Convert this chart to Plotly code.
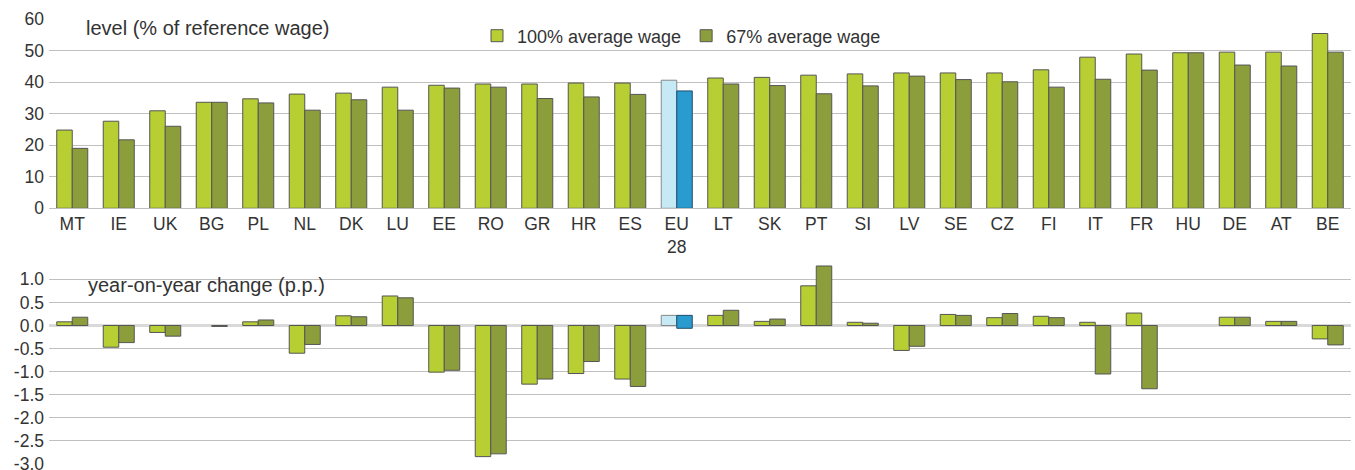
import plotly.graph_objects as go

categories = ["MT", "IE", "UK", "BG", "PL", "NL", "DK", "LU", "EE", "RO", "GR", "HR", "ES", "EU28",
              "LT", "SK", "PT", "SI", "LV", "SE", "CZ", "FI", "IT", "FR", "HU", "DE", "AT", "BE"]
tick_labels = ["MT", "IE", "UK", "BG", "PL", "NL", "DK", "LU", "EE", "RO", "GR", "HR", "ES", "EU<br>28",
               "LT", "SK", "PT", "SI", "LV", "SE", "CZ", "FI", "IT", "FR", "HU", "DE", "AT", "BE"]

level_100 = [24.8, 27.6, 30.9, 33.6, 34.7, 36.2, 36.5, 38.4, 39.0, 39.4, 39.4, 39.7, 39.7, 40.6,
             41.3, 41.5, 42.2, 42.6, 42.9, 42.9, 42.9, 43.9, 47.9, 48.9, 49.3, 49.5, 49.5, 55.4]
level_67 = [19.0, 21.7, 26.0, 33.6, 33.4, 31.1, 34.4, 31.1, 38.1, 38.4, 34.8, 35.3, 36.1, 37.2,
            39.4, 38.9, 36.3, 38.8, 41.9, 40.8, 40.1, 38.4, 40.9, 43.8, 49.3, 45.4, 45.1, 49.5]

change_100 = [0.08, -0.47, -0.15, 0.0, 0.08, -0.60, 0.21, 0.64, -1.01, -2.84, -1.27, -1.04, -1.16, 0.22,
              0.22, 0.09, 0.86, 0.07, -0.54, 0.24, 0.17, 0.20, 0.07, 0.27, 0.0, 0.18, 0.09, -0.29]
change_67 = [0.18, -0.37, -0.23, -0.02, 0.12, -0.41, 0.19, 0.60, -0.97, -2.78, -1.16, -0.78, -1.32, 0.22,
             0.33, 0.14, 1.29, 0.05, -0.45, 0.22, 0.26, 0.17, -1.05, -1.37, 0.0, 0.18, 0.09, -0.42]
# the EU28 67% bar in the change panel visibly dips below zero
eu_change_67_low = -0.06

LIGHT = "#b8cf33"
DARK = "#8c9e3c"
EU_LIGHT = "#c6e9f6"
EU_DARK = "#2a9bcf"
OUTLINE = "#555555"

def colors(base, eu):
    return [eu if c == "EU28" else base for c in categories]

def outlines(eu):
    return [eu if c == "EU28" else OUTLINE for c in categories]

def widths(vals):
    return [0 if v == 0 else 1 for v in vals]

base67 = [eu_change_67_low if c == "EU28" else 0 for c in categories]
height67 = [v - b if c == "EU28" else v for v, b, c in zip(change_67, base67, categories)]

FONT = "Liberation Sans, Arial, sans-serif"
TXT = "#333333"
GRID = "#c0c0c0"

fig = go.Figure()
fig.add_trace(go.Bar(x=categories, y=level_100, name="100% average wage",
                     marker=dict(color=colors(LIGHT, EU_LIGHT), line=dict(color=outlines("#888888"), width=1)),
                     xaxis="x", yaxis="y"))
fig.add_trace(go.Bar(x=categories, y=level_67, name="67% average wage",
                     marker=dict(color=colors(DARK, EU_DARK), line=dict(color=outlines("#1f4e6e"), width=1)),
                     xaxis="x", yaxis="y"))
fig.add_trace(go.Bar(x=categories, y=change_100, showlegend=False,
                     marker=dict(color=colors(LIGHT, EU_LIGHT),
                                 line=dict(color=outlines("#888888"), width=widths(change_100))),
                     xaxis="x2", yaxis="y2"))
fig.add_trace(go.Bar(x=categories, y=height67, base=base67, showlegend=False,
                     marker=dict(color=colors(DARK, EU_DARK),
                                 line=dict(color=outlines("#1f4e6e"), width=widths(change_67))),
                     xaxis="x2", yaxis="y2"))

H = 464.0  # paper height in px (470 - bottom margin)
def py(px):
    return (H - px) / H
def pxx(px):
    return (px - 49) / 1302.0

fig.update_layout(
    width=1355, height=470,
    margin=dict(l=49, r=4, t=0, b=6),
    paper_bgcolor="white", plot_bgcolor="white",
    font=dict(family=FONT, size=17, color=TXT),
    barmode="group", bargap=0.333, bargroupgap=0,
    xaxis=dict(domain=[0, 1], anchor="y", tickmode="array", tickvals=categories, ticktext=tick_labels,
               range=[-0.5, 27.5], automargin=False,
               showgrid=False, showline=True, linecolor=GRID, linewidth=1, ticks="",
               tickfont=dict(size=17.5, color=TXT)),
    yaxis=dict(domain=[py(208.3), py(19)], range=[0, 60], tickvals=[0, 10, 20, 30, 40, 50, 60],
               automargin=False,
               showgrid=True, gridcolor=GRID, gridwidth=1, zeroline=False, ticks="",
               tickfont=dict(size=17.5, color=TXT), ticklabelstandoff=4, ticklabeloverflow="allow"),
    xaxis2=dict(domain=[0, 1], anchor="y2", matches="x", showticklabels=False, showgrid=False,
                automargin=False, showline=False, ticks=""),
    yaxis2=dict(domain=[0, py(263.2)], range=[-3.0, 1.35], automargin=False,
                tickvals=[1.0, 0.5, 0.0, -0.5, -1.0, -1.5, -2.0, -2.5, -3.0],
                ticktext=["1.0", "0.5", "0.0", "-0.5", "-1.0", "-1.5", "-2.0", "-2.5", "-3.0"],
                showgrid=True, gridcolor=GRID, gridwidth=1,
                zeroline=True, zerolinecolor="#d9d9d9", zerolinewidth=3, ticks="",
                tickfont=dict(size=17.5, color=TXT), ticklabelstandoff=4, ticklabeloverflow="allow"),
    legend=dict(orientation="h", x=pxx(477), xanchor="left", y=py(36), yanchor="middle",
                yref="paper", bgcolor="rgba(0,0,0,0)", font=dict(size=18, color=TXT),
                itemwidth=30, traceorder="normal"),
    shapes=[
        dict(type="rect", xref="paper", yref="paper", x0=pxx(68), x1=pxx(347), y0=py(44), y1=py(10),
             fillcolor="white", line=dict(width=0), layer="between"),
        dict(type="rect", xref="paper", yref="paper", x0=pxx(68), x1=pxx(342), y0=py(301), y1=py(268),
             fillcolor="white", line=dict(width=0), layer="between"),
    ],
    annotations=[
        dict(text="level (% of reference wage)", xref="paper", yref="paper", x=pxx(84), y=py(28),
             xanchor="left", yanchor="middle", showarrow=False, font=dict(size=20, color=TXT)),
        dict(text="year-on-year change (p.p.)", xref="paper", yref="paper", x=pxx(86), y=py(285),
             xanchor="left", yanchor="middle", showarrow=False, font=dict(size=20, color=TXT)),
    ],
)

fig.write_html("out.html", config={"displayModeBar": False},
               post_script="document.body.style.margin='0';")
